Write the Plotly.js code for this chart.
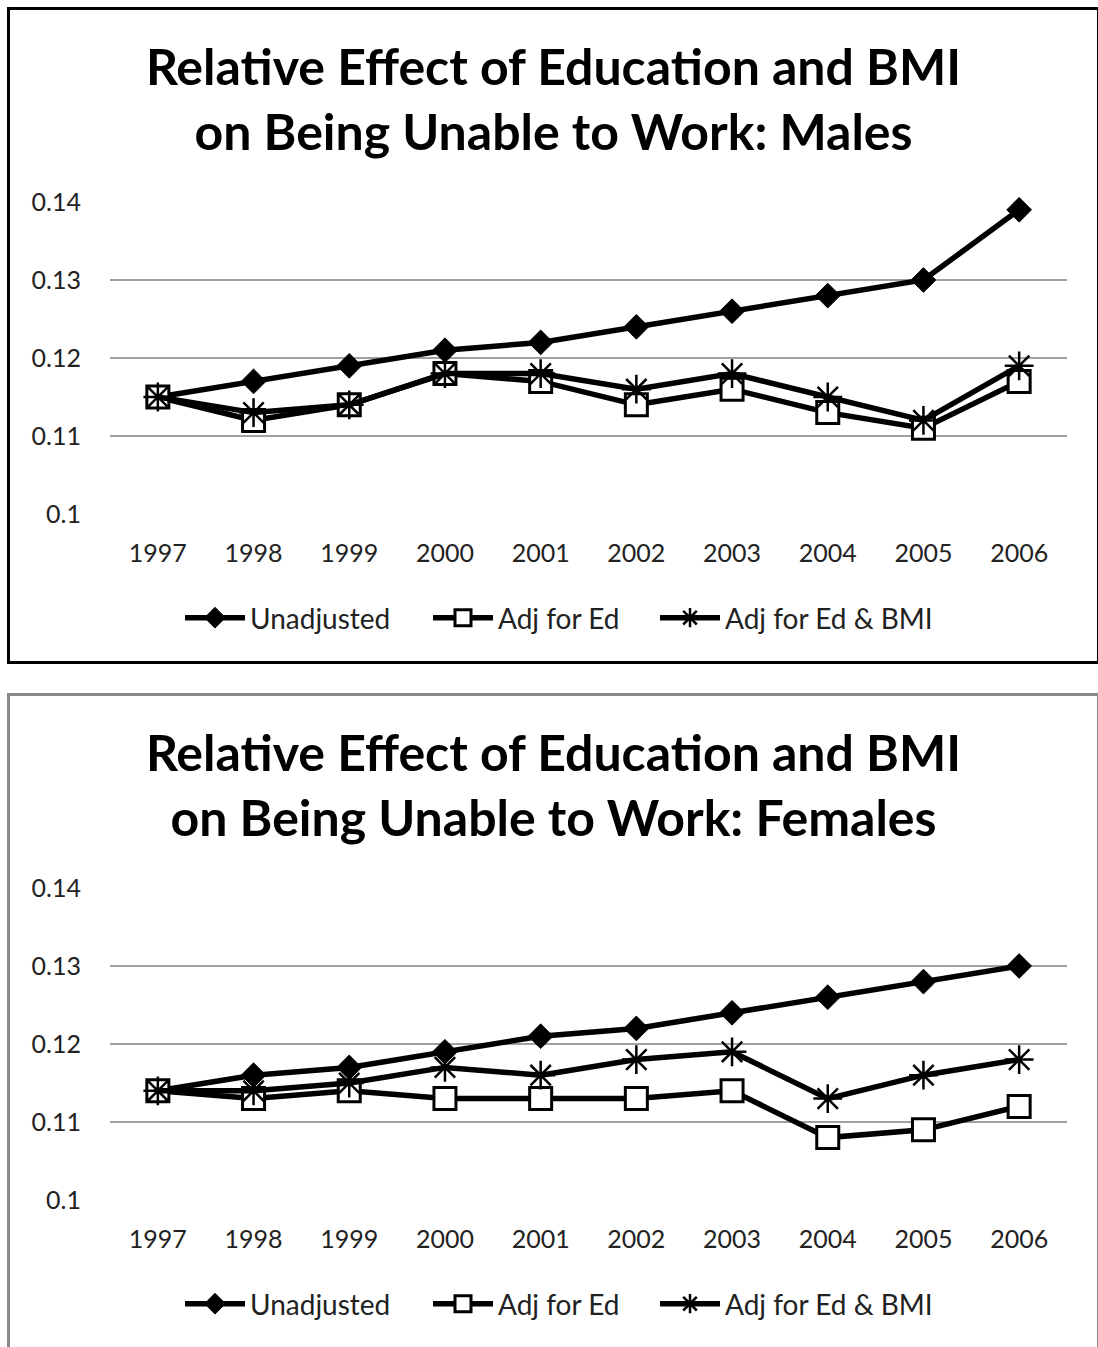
<!DOCTYPE html>
<html>
<head>
<meta charset="utf-8">
<script src="https://cdn.plot.ly/plotly-3.0.1.min.js"></script>
<style>
  html, body { margin: 0; padding: 0; background: #ffffff; overflow: hidden; width: 1098px; height: 1347px; }
  .box { position: absolute; box-sizing: border-box; background: #fff; }
  #boxTop { left: 7px; top: 7px; width: 1093px; height: 657px; border: 3px solid #000; }
  #boxBot { left: 7px; top: 693px; width: 1093px; height: 657px; border: 3px solid #8a8a8a; }
</style>
</head>
<body>
<div class="box" id="boxTop"><div id="chartMales"></div></div>
<div class="box" id="boxBot"><div id="chartFemales"></div></div>
<script>
// ---- data ----
const years = ["1997","1998","1999","2000","2001","2002","2003","2004","2005","2006"];
const seriesNames = ["Unadjusted", "Adj for Ed", "Adj for Ed & BMI"];

const malesUnadjusted = [0.115, 0.117, 0.119, 0.121, 0.122, 0.124, 0.126, 0.128, 0.130, 0.139];
const malesAdjEd      = [0.115, 0.112, 0.114, 0.118, 0.117, 0.114, 0.116, 0.113, 0.111, 0.117];
const malesAdjEdBMI   = [0.115, 0.113, 0.114, 0.118, 0.118, 0.116, 0.118, 0.115, 0.112, 0.119];

const femalesUnadjusted = [0.114, 0.116, 0.117, 0.119, 0.121, 0.122, 0.124, 0.126, 0.128, 0.130];
const femalesAdjEd      = [0.114, 0.113, 0.114, 0.113, 0.113, 0.113, 0.114, 0.108, 0.109, 0.112];
const femalesAdjEdBMI   = [0.114, 0.114, 0.115, 0.117, 0.116, 0.118, 0.119, 0.113, 0.116, 0.118];

const yTickVals = [0.10, 0.11, 0.12, 0.13, 0.14];
const yTickText = ["0.1", "0.11", "0.12", "0.13", "0.14"];

const titleMales = "Relative Effect of Education and BMI<br>on Being Unable to Work: Males";
const titleFemales = "Relative Effect of Education and BMI<br>on Being Unable to Work: Females";

// ---- styling ----
const FONT = "Lato, 'Open Sans', sans-serif";
const W = 1087, H = 651;
const legendLeft = [170, 418, 645];   // px from the left of the chart

function makeTraces(u, e, b) {
  return [
    { x: years, y: u, name: seriesNames[0], type: "scatter", mode: "lines+markers", cliponaxis: false,
      legend: "legend",
      line: { color: "#000", width: 5.5 },
      marker: { symbol: "diamond", size: 19, color: "#000", line: { color: "#000", width: 1 } } },
    { x: years, y: e, name: seriesNames[1], type: "scatter", mode: "lines+markers", cliponaxis: false,
      legend: "legend2",
      line: { color: "#000", width: 5.5 },
      marker: { symbol: "square", size: 22, color: "#fff", line: { color: "#000", width: 3 } } },
    { x: years, y: b, name: seriesNames[2], type: "scatter", mode: "lines+markers", cliponaxis: false,
      legend: "legend3",
      line: { color: "#000", width: 5.5 },
      marker: { symbol: "asterisk-open", size: 24, color: "#000", line: { color: "#000", width: 2.5 } } }
  ];
}

function legendAt(px) {
  return {
    orientation: "h", x: px / W, xanchor: "left", xref: "container",
    y: 1 - 608 / H, yanchor: "middle", yref: "container",
    font: { family: FONT, size: 28, color: "#222" },
    itemwidth: 60, bgcolor: "rgba(0,0,0,0)"
  };
}

function makeLayout(title) {
  return {
    width: W, height: H,
    paper_bgcolor: "#fff", plot_bgcolor: "#fff",
    margin: { l: 100, r: 30, t: 192, b: 147 },
    font: { family: FONT, color: "#222", size: 25 },
    title: {
      text: title,
      font: { family: FONT, size: 50, color: "#000", weight: "bold" },
      x: 0.5, xanchor: "center", xref: "container",
      y: 1 - 75 / H, yanchor: "middle", yref: "container"
    },
    xaxis: {
      type: "category", range: [-0.5, 9.5],
      showgrid: false, zeroline: false, showline: false, ticks: "",
      tickfont: { family: FONT, size: 25, color: "#222" },
      ticklabelstandoff: 22, fixedrange: true
    },
    yaxis: {
      range: [0.1, 0.14],
      tickvals: yTickVals, ticktext: yTickText,
      showgrid: true, gridcolor: "#a0a0a0", gridwidth: 2,
      zeroline: false, showline: false, ticks: "",
      tickfont: { family: FONT, size: 25, color: "#222" },
      ticklabelstandoff: 28, fixedrange: true
    },
    showlegend: true,
    legend: legendAt(legendLeft[0]),
    legend2: legendAt(legendLeft[1]),
    legend3: legendAt(legendLeft[2])
  };
}

Plotly.newPlot("chartMales", makeTraces(malesUnadjusted, malesAdjEd, malesAdjEdBMI),
  makeLayout(titleMales), { staticPlot: true, displayModeBar: false });
Plotly.newPlot("chartFemales", makeTraces(femalesUnadjusted, femalesAdjEd, femalesAdjEdBMI),
  makeLayout(titleFemales), { staticPlot: true, displayModeBar: false });
</script>
</body>
</html>
